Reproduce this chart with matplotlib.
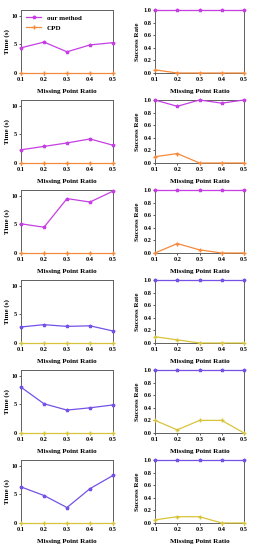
import matplotlib.pyplot as plt

ratios = [0.1, 0.2, 0.3, 0.4, 0.5]

# time (s) for each of the six experiments
time_ours = [
    [4.4, 5.4, 3.7, 4.9, 5.3],
    [2.3, 2.9, 3.5, 4.2, 3.1],
    [5.1, 4.5, 9.5, 8.9, 10.8],
    [2.8, 3.2, 2.9, 3.0, 2.1],
    [8.0, 5.1, 4.0, 4.4, 4.9],
    [6.3, 4.8, 2.7, 6.0, 8.3],
]
time_cpd = [
    [0.05, 0.05, 0.05, 0.05, 0.05],
    [0.05, 0.05, 0.05, 0.05, 0.05],
    [0.05, 0.05, 0.05, 0.05, 0.05],
    [0.05, 0.05, 0.05, 0.05, 0.05],
    [0.05, 0.05, 0.05, 0.05, 0.05],
    [0.05, 0.05, 0.05, 0.05, 0.05],
]
# success rate
succ_ours = [
    [1.0, 1.0, 1.0, 1.0, 1.0],
    [1.0, 0.9, 1.0, 0.95, 1.0],
    [1.0, 1.0, 1.0, 1.0, 1.0],
    [1.0, 1.0, 1.0, 1.0, 1.0],
    [1.0, 1.0, 1.0, 1.0, 1.0],
    [1.0, 1.0, 1.0, 1.0, 1.0],
]
succ_cpd = [
    [0.05, 0.0, 0.0, 0.0, 0.0],
    [0.1, 0.15, 0.0, 0.0, 0.0],
    [0.0, 0.15, 0.05, 0.0, 0.0],
    [0.1, 0.05, 0.0, 0.0, 0.0],
    [0.2, 0.05, 0.2, 0.2, 0.0],
    [0.05, 0.1, 0.1, 0.0, 0.0],
]

ours_cols = ['#c63fe3', '#c63fe3', '#c63fe3', '#7452e6', '#7452e6', '#7452e6']
cpd_cols = ['#f58a3c', '#f58a3c', '#f58a3c', '#d8c43a', '#d8c43a', '#d8c43a']

plt.rcParams['font.family'] = ['Liberation Serif', 'DejaVu Serif']
plt.rcParams['font.weight'] = 'bold'
plt.rcParams['axes.labelweight'] = 'bold'

W, H = 256, 550
fig = plt.figure(figsize=(W / 100, H / 100), dpi=100)

def style(ax):
    for s in ax.spines.values():
        s.set_color('#606060')
        s.set_linewidth(0.7)
    ax.tick_params(labelsize=4.5, length=1.5, width=0.6, pad=1.2, color='#404040')
    ax.set_xlim(0.1, 0.5)
    ax.set_xticks(ratios)
    ax.set_xticklabels(['0.1', '0.2', '0.3', '0.4', '0.5'])
    ax.set_xlabel('Missing Point Ratio', fontsize=5, labelpad=5)

for i in range(6):
    top = 10 + 90 * i
    bot = 73 + 90 * i
    h = (bot - top) / H
    y0 = 1 - bot / H
    axl = fig.add_axes([21 / W, y0, (113 - 21) / W, h])
    axr = fig.add_axes([155 / W, y0, (244 - 155) / W, h])

    axl.plot(ratios, time_ours[i], color=ours_cols[i], lw=0.9, marker='*', ms=2.5,
             clip_on=False, zorder=3, label='our method')
    axl.plot(ratios, time_cpd[i], color=cpd_cols[i], lw=0.9, marker='+', ms=2.5,
             clip_on=False, zorder=3, label='CPD')
    axl.set_ylim(0, 11)
    axl.set_yticks([0, 5, 10])
    axl.set_ylabel('Time (s)', fontsize=5, labelpad=1)
    style(axl)

    axr.plot(ratios, succ_ours[i], color=ours_cols[i], lw=0.9, marker='*', ms=2.5,
             clip_on=False, zorder=3)
    axr.plot(ratios, succ_cpd[i], color=cpd_cols[i], lw=0.9, marker='+', ms=2.5,
             clip_on=False, zorder=3)
    axr.set_ylim(0, 1)
    axr.set_yticks([0, 0.2, 0.4, 0.6, 0.8, 1.0])
    axr.set_yticklabels(['0.0', '0.2', '0.4', '0.6', '0.8', '1.0'])
    axr.set_ylabel('Success Rate', fontsize=5, labelpad=2)
    style(axr)

    if i == 0:
        axl.legend(loc='upper left', fontsize=5, frameon=False, handlelength=2.2,
                   borderaxespad=0.3, labelspacing=0.6)

fig.savefig('out.png', dpi=100)
